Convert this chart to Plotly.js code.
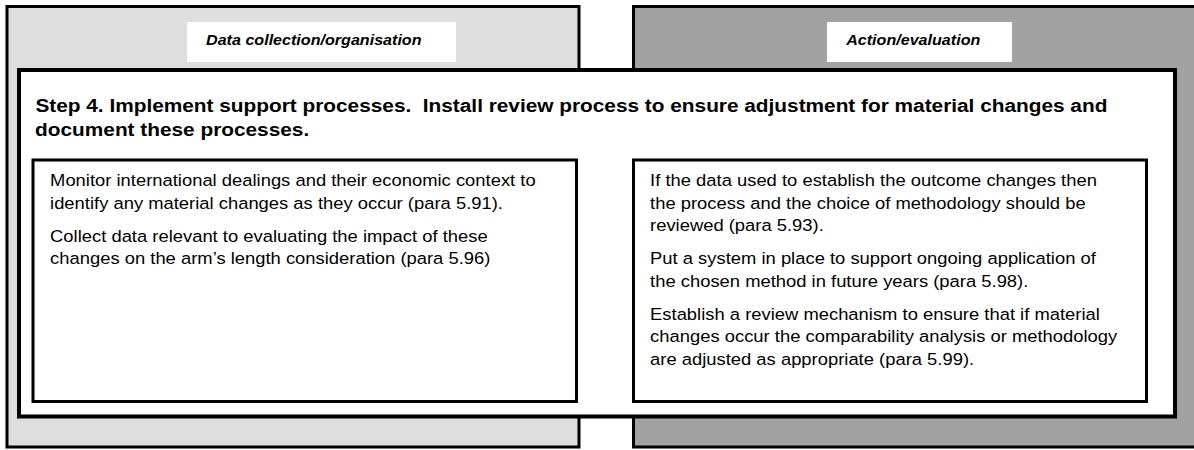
<!DOCTYPE html>
<html>
<head>
<meta charset="utf-8">
<script src="https://cdn.plot.ly/plotly-3.0.1.min.js"></script>
<style>html,body{margin:0;padding:0;background:#fff}#chart{width:1194px;height:450px}</style>
</head>
<body>
<div id="chart"></div>
<script>
// Content
const panelLabels = ["Data collection/organisation", "Action/evaluation"];
const titleLines = [
  "Step 4. Implement support processes.\u00a0 Install review process to ensure adjustment for material changes and",
  "document these processes."
];
const leftParagraphs = [
  ["Monitor international dealings and their economic context to",
   "identify any material changes as they occur (para 5.91)."],
  ["Collect data relevant to evaluating the impact of these",
   "changes on the arm\u2019s length consideration (para 5.96)"]
];
const rightParagraphs = [
  ["If the data used to establish the outcome changes then",
   "the process and the choice of methodology should be",
   "reviewed (para 5.93)."],
  ["Put a system in place to support ongoing application of",
   "the chosen method in future years (para 5.98)."],
  ["Establish a review mechanism to ensure that if material",
   "changes occur the comparability analysis or methodology",
   "are adjusted as appropriate (para 5.99)."]
];

const FONT = "Liberation Sans, Arial, sans-serif";
const shapes = [
  {type:"rect", x0:7, y0:6.5, x1:579, y1:447, fillcolor:"#dedede", line:{color:"#000", width:3}},
  {type:"rect", x0:633.5, y0:6.5, x1:1205, y1:447, fillcolor:"#a2a2a2", line:{color:"#000", width:3}},
  {type:"rect", x0:187, y0:22, x1:456, y1:62, fillcolor:"#fff", line:{width:0}},
  {type:"rect", x0:827, y0:22, x1:1012, y1:62, fillcolor:"#fff", line:{width:0}},
  {type:"rect", x0:19, y0:70, x1:1175, y1:416.5, fillcolor:"#fff", line:{color:"#000", width:4}},
  {type:"rect", x0:33, y0:160, x1:576.5, y1:401.5, fillcolor:"#fff", line:{color:"#000", width:3}},
  {type:"rect", x0:633.5, y0:160, x1:1146.5, y1:401.5, fillcolor:"#fff", line:{color:"#000", width:3}}
];

const annotations = [];
const stretch = [];
function addText(txt, x, y, size, bold, italic, sx) {
  let t = txt;
  if (bold) t = "<b>" + t + "</b>";
  if (italic) t = "<i>" + t + "</i>";
  annotations.push({text:t, x:x, y:y, xref:"x", yref:"y", xanchor:"left", yanchor:"middle",
    showarrow:false, font:{family:FONT, size:size, color:"#000"}});
  stretch.push(sx);
}
addText(panelLabels[0], 204, 40, 14, true, true, 1.15);
addText(panelLabels[1], 843, 40, 14, true, true, 1.15);
titleLines.forEach((l, i) => addText(l, 33, 106 + i * 24, 17.5, true, false, 1.19));

function addParas(paras, x, y0) {
  let y = y0;
  paras.forEach(p => {
    p.forEach(l => { addText(l, x, y, 16.5, false, false, 1.115); y += 22.5; });
    y += 10.5;
  });
}
addParas(leftParagraphs, 48, 180);
addParas(rightParagraphs, 648, 180);

const layout = {
  width:1194, height:450,
  margin:{l:0, r:0, t:0, b:0},
  paper_bgcolor:"#fff", plot_bgcolor:"#fff",
  xaxis:{range:[0,1194], visible:false, fixedrange:true},
  yaxis:{range:[450,0], visible:false, fixedrange:true},
  shapes:shapes, annotations:annotations, showlegend:false
};
Plotly.newPlot("chart", [{x:[], y:[], type:"scatter"}], layout, {staticPlot:true, displayModeBar:false})
  .then(gd => {
    // widen glyphs horizontally (the source text is set wider than its height)
    gd.querySelectorAll(".annotation-text").forEach((t, i) => {
      const sx = stretch[i] || 1;
      const x0 = t.getBBox().x;
      t.setAttribute("transform", "translate(" + x0 + ",0) scale(" + sx + ",1) translate(" + (-x0) + ",0)");
    });
  });
</script>
</body>
</html>
